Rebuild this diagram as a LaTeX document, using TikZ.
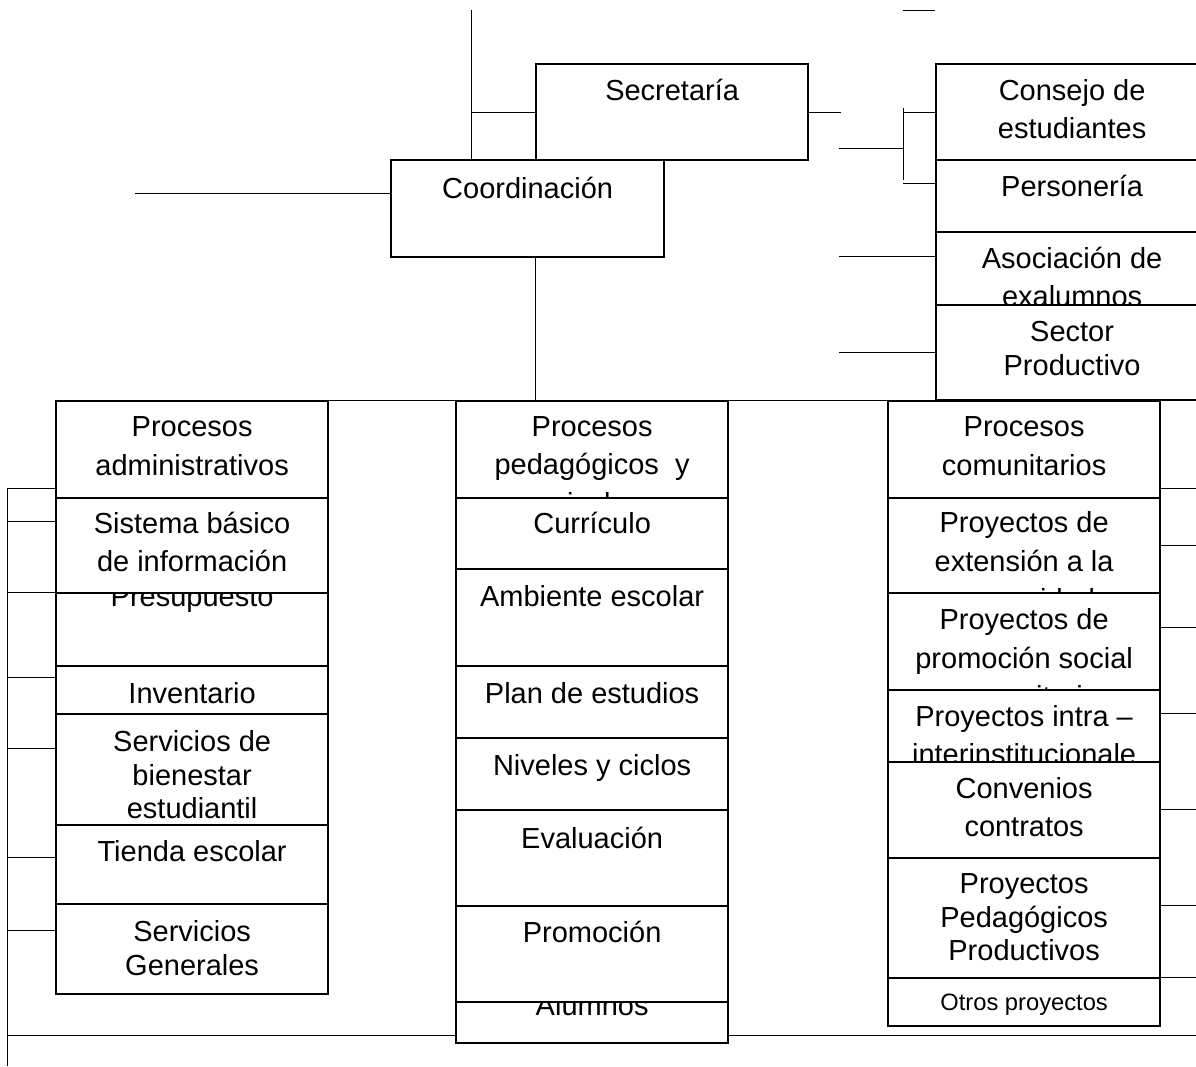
\documentclass[tikz,border=0pt]{standalone}
\usepackage{fontspec}
\setmainfont{Liberation Sans}
\usetikzlibrary{backgrounds}

\newcommand{\bigtxt}{\fontsize{16.5pt}{21.8pt}\selectfont}
\newcommand{\tighttxt}{\fontsize{16.5pt}{19.1pt}\selectfont}
\newcommand{\smalltxt}{\fontsize{13.5pt}{16pt}\selectfont}

% base = baseline of the last line
\tikzstyle{txt} = [text centered, inner sep=0pt, anchor=base, align=center, font=\bigtxt]
\tikzstyle{bx} = [draw, fill=white, inner sep=0pt, anchor=north west, minimum width=5.44cm]

\begin{document}
\begin{tikzpicture}[x=0.02cm, y=-0.02cm, line width=1.3pt]
\useasboundingbox (0,0) rectangle (1196,1066);
\clip (0,0) rectangle (1196,1066);

%SECRETARIA - COORDINACION
\node[bx, minimum height=1.92cm] (secr) at (535,63) {};
\node[txt] (secrT) at ([yshift=-0.75cm]secr.north) {Secretaría};
\node[bx, minimum height=1.94cm, minimum width=5.46cm] (coord) at (390,159) {};
\node[txt] (coordT) at ([yshift=-0.78cm]coord.north) {Coordinación};

%ESTAMENTOS
\node[bx, minimum height=1.92cm] (cons) at (935,63) {};
\node[txt] (consT) at ([yshift=-1.516cm]cons.north) {Consejo de\\estudiantes};
\node[bx, minimum height=1.44cm] (pers) at (935,159) {};
\node[txt] (persT) at ([yshift=-0.75cm]pers.north) {Personería};
\node[bx, minimum height=1.98cm] (asoc) at (935,231) {};
\node[txt] (asocT) at ([yshift=-1.516cm]asoc.north) {Asociación de\\exalumnos};
\node[bx, minimum height=1.9cm] (sect) at (935,304) {};
\node[txt, font=\tighttxt] (sectT) at ([yshift=-1.421cm]sect.north) {Sector\\Productivo};

%PROCESOS ADMINISTRATIVOS
\node[bx, minimum height=1.94cm] (adm) at (55,400) {};
\node[txt] (admT) at ([yshift=-1.506cm]adm.north) {Procesos\\administrativos};
\node[bx, minimum height=1.94cm] (pres) at (55,568) {};
\node[txt] (presT) at ([yshift=-0.76cm]pres.north) {Presupuesto};
\node[bx, minimum height=1.9cm] (sbi) at (55,497) {};
\node[txt] (sbiT) at ([yshift=-1.496cm]sbi.north) {Sistema básico\\de información};
\node[bx, minimum height=0.96cm] (inv) at (55,665) {};
\node[txt] (invT) at ([yshift=-0.76cm]inv.north) {Inventario};
\node[bx, minimum height=2.22cm] (bien) at (55,713) {};
\node[txt, font=\tighttxt] (bienT) at ([yshift=-2.112cm]bien.north) {Servicios de\\bienestar\\estudiantil};
\node[bx, minimum height=1.58cm] (tien) at (55,824) {};
\node[txt] (tienT) at ([yshift=-0.75cm]tien.north) {Tienda escolar};
\node[bx, minimum height=1.8cm] (gen) at (55,903) {};
\node[txt, font=\tighttxt] (genT) at ([yshift=-1.441cm]gen.north) {Servicios\\Generales};

%PROCESOS PEDAGOGICOS
\node[bx, minimum height=1.94cm] (ped) at (455,400) {};
\node[txt] (pedT) at ([yshift=-2.262cm]ped.north) {Procesos\\pedagógicos~ y\\curriculares};
\node[bx, minimum height=1.42cm] (curr) at (455,497) {};
\node[txt] (currT) at ([yshift=-0.73cm]curr.north) {Currículo};
\node[bx, minimum height=1.94cm] (amb) at (455,568) {};
\node[txt] (ambT) at ([yshift=-0.77cm]amb.north) {Ambiente escolar};
\node[bx, minimum height=1.44cm] (plan) at (455,665) {};
\node[txt] (planT) at ([yshift=-0.77cm]plan.north) {Plan de estudios};
\node[bx, minimum height=1.44cm] (niv) at (455,737) {};
\node[txt] (nivT) at ([yshift=-0.76cm]niv.north) {Niveles y ciclos};
\node[bx, minimum height=1.92cm] (eval) at (455,809) {};
\node[txt] (evalT) at ([yshift=-0.78cm]eval.north) {Evaluación};
\node[bx, minimum height=1.3cm] (alum) at (455,977) {};
\node[txt] (alumT) at ([yshift=-0.76cm]alum.north) {Alumnos};
\node[bx, minimum height=1.92cm] (prom) at (455,905) {};
\node[txt] (promT) at ([yshift=-0.75cm]prom.north) {Promoción};

%PROCESOS COMUNITARIOS
\node[bx, minimum height=1.94cm] (com) at (887,400) {};
\node[txt] (comT) at ([yshift=-1.506cm]com.north) {Procesos\\comunitarios};
\node[bx, minimum height=1.9cm] (ext) at (887,497) {};
\node[txt] (extT) at ([yshift=-2.252cm]ext.north) {Proyectos de\\extensión a la\\comunidad};
\node[bx, minimum height=1.94cm] (psoc) at (887,592) {};
\node[txt] (psocT) at ([yshift=-2.292cm]psoc.north) {Proyectos de\\promoción social\\comunitaria};
\node[bx, minimum height=1.44cm] (intra) at (887,689) {};
\node[txt] (intraT) at ([yshift=-1.516cm]intra.north) {Proyectos intra --\\interinstitucionale};
\node[bx, minimum height=1.92cm] (conv) at (887,761) {};
\node[txt] (convT) at ([yshift=-1.516cm]conv.north) {Convenios\\contratos};
\node[bx, minimum height=2.4cm] (ppp) at (887,857) {};
\node[txt, font=\tighttxt] (pppT) at ([yshift=-2.072cm]ppp.north) {Proyectos\\Pedagógicos\\Productivos};
\node[bx, minimum height=0.96cm] (otros) at (887,977) {};
\node[txt, font=\smalltxt] (otrosT) at ([yshift=-0.66cm]otros.north) {Otros proyectos};

%LINES
\begin{scope}[on background layer]
\coordinate (topA) at (471,10);
\coordinate (brk) at (903,148);
\draw (topA) -- (topA |- coord.north);
\draw (topA |- secr.west) -- (secr.west);
\draw (secr.east) -- ++(32,0);
\draw (brk) -- ++(-64,0);
\draw (brk) ++(0,-40) -- ++(0,72);
\draw (brk |- cons.west) -- (cons.west);
\draw (pers.north west) ++(0,24) -- ++(-32,0);
\draw (cons.north west) ++(0,-53) -- ++(-32,0);
\draw (asoc.north west) ++(0,25) -- ++(-96,0);
\draw (sect.west) -- ++(-96,0);
\draw (coord.north west) ++(0,34) -- ++(-255,0);
\draw (coord.south -| secr.west) -- (secr.west |- adm.north);
\draw (adm.north west) -- ++(1141,0);
\draw (7,488) -- (7,1066);
\foreach \p in {488,521,592,677,748,857,930}
  \draw (7,\p) -- (adm.west |- 0,\p);
\foreach \p in {488,545,627,713,809,905,977}
  \draw (com.east |- 0,\p) -- (1196,\p);
\draw (7,1035) -- (1196,1035);
\end{scope}
\end{tikzpicture}
\end{document}
